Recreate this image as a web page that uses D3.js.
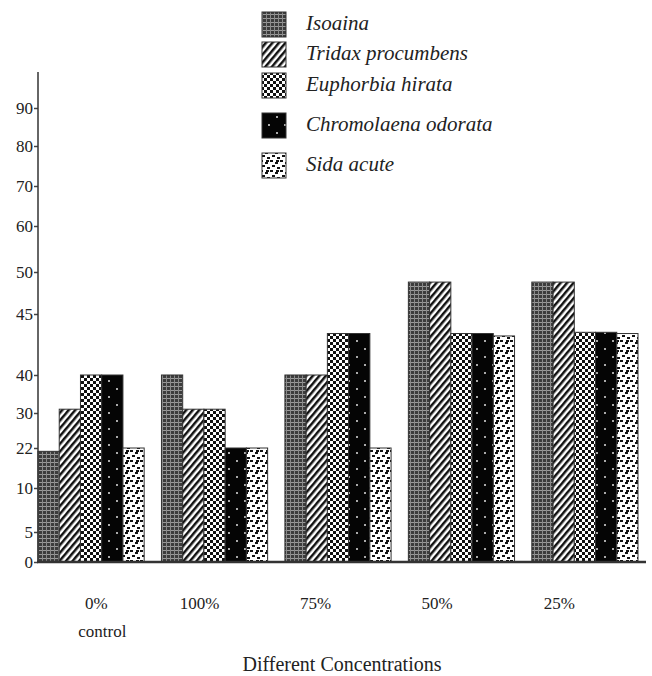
<html>
<head>
<meta charset='UTF-8'>
<script src="https://d3js.org/d3.v7.min.js"></script>
<style>
  body { margin: 0; background: #fff; }
  text { font-family: "Liberation Serif", "DejaVu Serif", serif; fill: #222; }
</style>
</head>
<body>
<svg id="chart" width="652" height="676"></svg>
<script>
// concentrations on the x axis
let concentrations = ['0%', '100%', '75%', '50%', '25%'];
let concLabels = [['0%', 'control'], ['100%'], ['75%'], ['50%'], ['25%']];
let plants = ['Isoaina', 'Tridax procumbens', 'Euphorbia hirata', 'Chromolaena odorata', 'Sida acute'];

// values per plant, one per concentration
let isoaina     = [21, 40, 40, 48.8, 48.8];
let tridax      = [31, 31, 40, 48.8, 48.8];
let euphorbia   = [40, 31, 43.4, 43.4, 43.5];
let chromolaena = [40, 22, 43.4, 43.4, 43.5];
let sida        = [22, 22, 22, 43.2, 43.4];
let series = [isoaina, tridax, euphorbia, chromolaena, sida];

// the y axis of the original is not evenly spaced
let yTicks = [0, 5, 10, 22, 30, 40, 45, 50, 60, 70, 80, 90];

let svg = d3.select('svg#chart');
let defs = svg.append('defs');

// fill patterns, one per plant
function pattern(id, w, h, bg, rot) {
    let p = defs.append('pattern').attr('id', id)
        .attr('patternUnits', 'userSpaceOnUse')
        .attr('width', w).attr('height', h);
    if (rot) p.attr('patternTransform', 'rotate(' + rot + ')');
    p.append('rect').attr('width', w).attr('height', h).attr('fill', bg);
    return p;
}
let p0 = pattern('pIso', 4, 4, '#3c3c3c');
p0.append('rect').attr('x', 0).attr('y', 2).attr('width', 4).attr('height', 1).attr('fill', '#9a9a9a');
p0.append('rect').attr('x', 2).attr('y', 0).attr('width', 1).attr('height', 4).attr('fill', '#8a8a8a');

let p1 = pattern('pTri', 5, 5, '#fff', 40);
p1.append('rect').attr('width', 2.5).attr('height', 5).attr('fill', '#111');

let p2 = pattern('pEup', 6, 6, '#fff');
p2.append('rect').attr('x', 0).attr('y', 0).attr('width', 3).attr('height', 3).attr('fill', '#111');
p2.append('rect').attr('x', 3).attr('y', 3).attr('width', 3).attr('height', 3).attr('fill', '#111');

let p3 = pattern('pChr', 16, 16, '#050505');
p3.append('rect').attr('x', 4).attr('y', 4).attr('width', 2).attr('height', 2).attr('fill', '#aaa');
p3.append('rect').attr('x', 12).attr('y', 12).attr('width', 2).attr('height', 2).attr('fill', '#aaa');

let p4 = pattern('pSid', 10, 10, '#fff');
[[0, 0], [5, 2], [2, 5], [7, 7], [6, 0]].forEach(d => {
    p4.append('rect').attr('x', d[0]).attr('y', d[1]).attr('width', 3).attr('height', 2).attr('fill', '#111');
});
let fills = ['url(#pIso)', 'url(#pTri)', 'url(#pEup)', 'url(#pChr)', 'url(#pSid)'];

// scales
let x0 = d3.scaleBand().domain(concentrations).range([38, 638]).paddingInner(0.14).paddingOuter(0);
let x1 = d3.scaleBand().domain(d3.range(plants.length)).range([0, x0.bandwidth()]);
let y = d3.scaleLinear().domain(yTicks)
    .range([562, 532, 488, 448, 413, 375, 314, 272, 226, 186, 146, 108]);

// bars
series.forEach((vals, i) => {
    svg.append('g').selectAll('rect')
        .data(vals)
        .join('rect')
        .attr('x', (d, j) => x0(concentrations[j]) + x1(i))
        .attr('y', d => y(d))
        .attr('width', x1.bandwidth())
        .attr('height', d => y(0) - y(d))
        .attr('fill', fills[i])
        .attr('stroke', '#333')
        .attr('stroke-width', 1);
});

// y axis
let yAxis = d3.axisLeft(y).tickValues(yTicks).tickSize(4).tickPadding(1);
let gy = svg.append('g').attr('transform', 'translate(38,0)').call(yAxis);
gy.select('.domain').remove();
gy.selectAll('.tick line').attr('stroke', '#444').attr('stroke-width', 1.5);
gy.selectAll('.tick text').style('font-size', '17px').attr('fill', '#222');
svg.append('line').attr('x1', 38).attr('x2', 38).attr('y1', 72).attr('y2', 563)
    .attr('stroke', '#333').attr('stroke-width', 1.5);

// baseline
svg.append('line').attr('x1', 37).attr('x2', 646).attr('y1', y(0)).attr('y2', y(0))
    .attr('stroke', '#333').attr('stroke-width', 2.5);

// category labels (they sit left of the group centres in the original)
let labelShift = [0.55, 0.36, 0.29, 0.27, 0.26];
concLabels.forEach((lines, j) => {
    let cx = x0(concentrations[j]) + x0.bandwidth() * labelShift[j];
    let t = svg.append('text')
        .attr('y', 609)
        .attr('text-anchor', 'middle')
        .style('font-size', '17px');
    lines.forEach((l, k) => {
        t.append('tspan').attr('x', cx + (k ? 6 : 0))
            .attr('dy', k ? 28 : 0).text(l);
    });
});

svg.append('text').attr('x', 342).attr('y', 671).attr('text-anchor', 'middle')
    .style('font-size', '20px').text('Different Concentrations');

// legend
let legendY = [12, 42, 73, 113, 153];
plants.forEach((p, i) => {
    svg.append('rect').attr('x', 262).attr('y', legendY[i]).attr('width', 24).attr('height', 25)
        .attr('fill', fills[i]).attr('stroke', '#333');
    svg.append('text').attr('x', 306).attr('y', legendY[i] + 18)
        .style('font-size', '21px').style('font-style', 'italic').text(p);
});
</script>
</body>
</html>
